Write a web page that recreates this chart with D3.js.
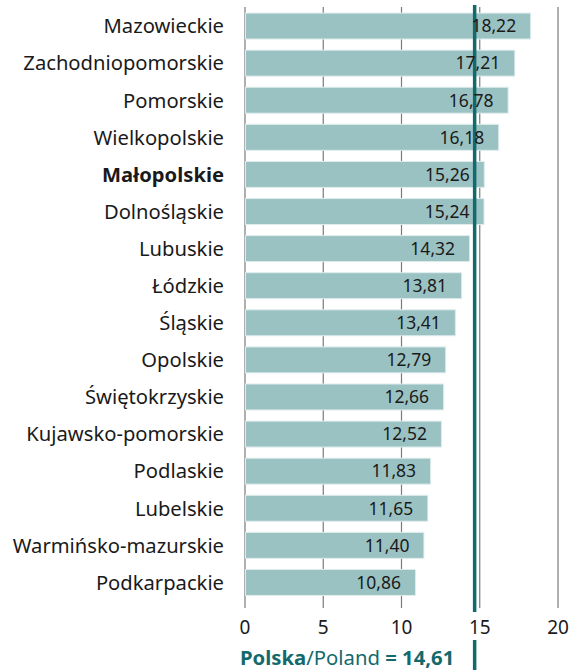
<!DOCTYPE html>
<html>
<head>
<meta charset="utf-8">
<script src="https://cdn.jsdelivr.net/npm/d3@7"></script>
<style>
  html, body { margin: 0; padding: 0; background: #fff; }
  svg { display: block; font-family: "Noto Sans", "Open Sans", sans-serif; }
</style>
</head>
<body>
<svg id="chart" width="571" height="670"></svg>
<script>
// Regions (voivodeships), sorted by value
const regions = [
  "Mazowieckie", "Zachodniopomorskie", "Pomorskie", "Wielkopolskie",
  "Małopolskie", "Dolnośląskie", "Lubuskie", "Łódzkie", "Śląskie",
  "Opolskie", "Świętokrzyskie", "Kujawsko-pomorskie", "Podlaskie",
  "Lubelskie", "Warmińsko-mazurskie", "Podkarpackie"
];
const values = [
  18.22, 17.21, 16.78, 16.18, 15.26, 15.24, 14.32, 13.81, 13.41,
  12.79, 12.66, 12.52, 11.83, 11.65, 11.40, 10.86
];
const highlighted = ["Małopolskie"];
const tickValues = [0, 5, 10, 15, 20];
const nationalValue = 14.61;
const nationalLabel = ["Polska", "/Poland", " = 14,61"];

const data = regions.map((r, i) => ({ region: r, value: values[i] }));
const fmt = v => d3.format(".2f")(v).replace(".", ",");

const svg = d3.select("#chart");
const plotTop = 7, plotBottom = 608;

const x = d3.scaleLinear().domain([0, 20]).range([245, 558]);
const y = d3.scaleBand()
  .domain(regions)
  .range([7.5, 601])
  .paddingInner(0.3)
  .paddingOuter(0.15);

// Vertical gridlines
svg.append("g")
  .selectAll("line")
  .data(tickValues)
  .join("line")
  .attr("x1", d => x(d)).attr("x2", d => x(d))
  .attr("y1", plotTop).attr("y2", plotBottom)
  .attr("stroke", "#7a7a7a")
  .attr("stroke-width", 1.2);

// Bars
svg.append("g")
  .selectAll("rect")
  .data(data)
  .join("rect")
  .attr("x", x(0) + 0.5)
  .attr("y", d => y(d.region))
  .attr("width", d => x(d.value) - x(0))
  .attr("height", y.bandwidth())
  .attr("fill", "#9bc2c3")
  .attr("stroke", "#dfeced")
  .attr("stroke-width", 1);

// National average line
const teal = "#136a6c";
svg.append("line")
  .attr("x1", x(nationalValue) + 1).attr("x2", x(nationalValue) + 1)
  .attr("y1", 5).attr("y2", 612)
  .attr("stroke", teal).attr("stroke-width", 3.5);
svg.append("line")
  .attr("x1", x(nationalValue) + 1).attr("x2", x(nationalValue) + 1)
  .attr("y1", 640).attr("y2", 670)
  .attr("stroke", teal).attr("stroke-width", 3.5);

// Value labels inside the bars
svg.append("g")
  .selectAll("text")
  .data(data)
  .join("text")
  .attr("x", d => x(d.value) - 14)
  .attr("y", d => y(d.region) + y.bandwidth() / 2)
  .attr("dy", "0.36em")
  .attr("text-anchor", "end")
  .attr("font-size", 17.5)
  .attr("fill", "#1a1a1a")
  .text(d => fmt(d.value));

// Region labels
svg.append("g")
  .selectAll("text")
  .data(data)
  .join("text")
  .attr("x", 224)
  .attr("y", d => y(d.region) + y.bandwidth() / 2)
  .attr("dy", "0.36em")
  .attr("text-anchor", "end")
  .attr("font-size", 20.2)
  .attr("font-weight", d => highlighted.includes(d.region) ? "bold" : "normal")
  .attr("fill", "#1a1a1a")
  .text(d => d.region);

// X axis tick labels
svg.append("g")
  .selectAll("text")
  .data(tickValues)
  .join("text")
  .attr("x", d => x(d))
  .attr("y", 627)
  .attr("dy", "0.36em")
  .attr("text-anchor", "middle")
  .attr("font-size", 19)
  .attr("fill", "#1a1a1a")
  .text(d => d);

// National average caption
const cap = svg.append("text")
  .attr("x", 240)
  .attr("y", 665)
  .attr("font-size", 20.3)
  .attr("fill", teal);
cap.append("tspan").attr("font-weight", "bold").text(nationalLabel[0]);
cap.append("tspan").text(nationalLabel[1]);
cap.append("tspan").attr("font-weight", "bold").text(nationalLabel[2]);
</script>
</body>
</html>
